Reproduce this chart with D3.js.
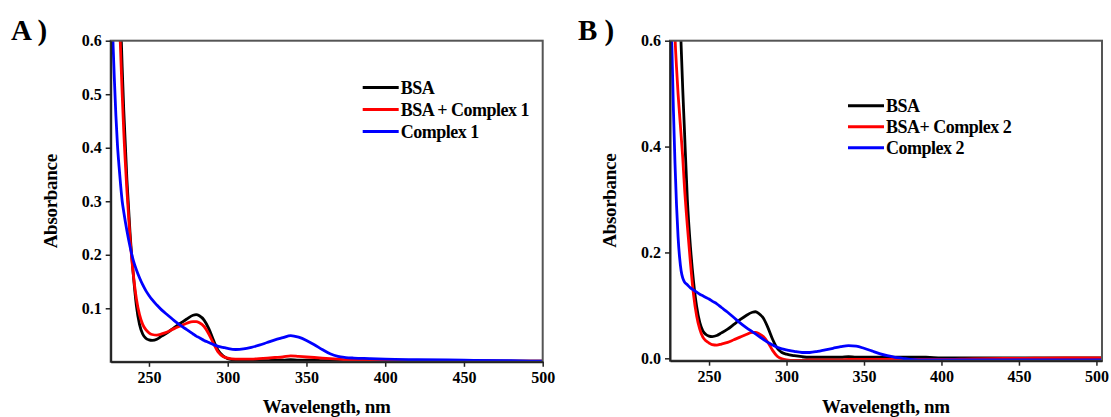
<!DOCTYPE html>
<html>
<head>
<meta charset="utf-8">
<script src="https://cdn.jsdelivr.net/npm/d3@7"></script>
<style>
  body { margin: 0; background: #fff; }
  svg text { font-family: "Liberation Serif", "Times New Roman", serif; font-weight: bold; fill: #000; }
</style>
</head>
<body>
<svg id="chart" width="1111" height="417"></svg>
<script>
// ---- Absorption spectra (absorbance vs wavelength, nm) ----
const wavelengthA = [225,226,227,228,229,230,231,232,233,234,236,238,240,242,244,246,248,250,252,255,258,262,266,270,274,278,280,282,285,288,291,294,297,300,305,310,315,320,325,330,335,340,345,350,355,360,365,370,375,380,390,400,420,450,480,500];
const bsaA = [1.6,1.4,1.22,1.06,0.92,0.82,0.72,0.64,0.55,0.47,0.34,0.24,0.165,0.105,0.07,0.052,0.044,0.041,0.040,0.042,0.048,0.055,0.064,0.072,0.080,0.087,0.088,0.086,0.078,0.062,0.040,0.021,0.011,0.006,0.003,0.002,0.002,0.002,0.002,0.003,0.003,0.004,0.003,0.003,0.003,0.002,0.002,0.002,0.002,0.002,0.002,0.002,0.001,0.001,0.001,0.001];
const bsaComplex1 = [1.5,1.3,1.12,0.97,0.85,0.75,0.66,0.58,0.50,0.43,0.32,0.23,0.165,0.118,0.088,0.070,0.060,0.054,0.051,0.050,0.052,0.056,0.062,0.067,0.072,0.075,0.075,0.073,0.066,0.052,0.034,0.018,0.010,0.007,0.005,0.005,0.005,0.006,0.007,0.008,0.009,0.011,0.010,0.009,0.008,0.007,0.006,0.005,0.004,0.004,0.003,0.003,0.002,0.002,0.001,0.001];
const complex1 = [0.78,0.69,0.61,0.53,0.46,0.405,0.365,0.33,0.30,0.28,0.245,0.215,0.19,0.172,0.157,0.144,0.133,0.124,0.116,0.106,0.097,0.087,0.077,0.068,0.060,0.052,0.048,0.045,0.040,0.036,0.032,0.029,0.027,0.025,0.023,0.024,0.027,0.031,0.036,0.041,0.045,0.049,0.046,0.040,0.032,0.023,0.015,0.010,0.008,0.007,0.006,0.005,0.004,0.003,0.002,0.001];

const wavelengthB = [225,226,227,228,229,230,231,232,233,234,236,238,240,242,244,246,248,250,252,255,258,262,266,270,274,278,280,282,285,288,291,294,297,300,305,310,315,320,325,330,335,340,345,350,355,360,365,370,375,380,390,400,420,450,480,500,504];
const bsaB = [1.5,1.3,1.13,0.98,0.86,0.76,0.67,0.59,0.51,0.44,0.30,0.21,0.145,0.098,0.068,0.052,0.045,0.042,0.041,0.043,0.048,0.055,0.064,0.073,0.081,0.087,0.088,0.085,0.076,0.058,0.036,0.019,0.011,0.008,0.005,0.003,0.002,0.002,0.002,0.002,0.002,0.003,0.002,0.002,0.002,0.002,0.002,0.002,0.002,0.002,0.002,0.001,0.001,0.001,0.001,0.001,0.001];
const bsaComplex2 = [0.95,0.82,0.71,0.61,0.55,0.50,0.46,0.42,0.38,0.33,0.25,0.18,0.12,0.08,0.055,0.040,0.033,0.029,0.026,0.025,0.027,0.030,0.035,0.040,0.045,0.049,0.049,0.047,0.041,0.030,0.015,0.004,-0.001,-0.003,-0.004,-0.004,-0.003,-0.003,-0.003,-0.003,-0.003,-0.002,-0.002,-0.002,-0.002,-0.002,-0.002,-0.002,-0.002,-0.002,-0.002,-0.002,-0.001,0.0,0.001,0.001,0.001];
const complex2 = [0.68,0.59,0.47,0.37,0.29,0.23,0.19,0.165,0.152,0.145,0.139,0.133,0.129,0.125,0.121,0.118,0.115,0.112,0.108,0.103,0.096,0.087,0.077,0.067,0.058,0.050,0.046,0.042,0.036,0.030,0.025,0.021,0.018,0.016,0.013,0.011,0.011,0.013,0.016,0.019,0.022,0.024,0.023,0.019,0.014,0.009,0.005,0.002,0.000,-0.002,-0.003,-0.003,-0.003,-0.003,-0.003,-0.003,-0.003];

const xTickValues = [250, 300, 350, 400, 450, 500];
const yTicksA = [0.1, 0.2, 0.3, 0.4, 0.5, 0.6];
const yTicksB = [0.0, 0.2, 0.4, 0.6];

const seriesNamesA = ["BSA", "BSA + Complex 1", "Complex 1"];
const seriesNamesB = ["BSA", "BSA+ Complex 2", "Complex 2"];
const seriesColors = ["#000000", "#ff0000", "#0000ff"];

const svg = d3.select("#chart");

const panels = [
  {
    id: "a", label: "A )", labelX: 11,
    wavelength: wavelengthA, values: [bsaA, bsaComplex1, complex1], names: seriesNamesA,
    xDomain: [225.7, 500], yDomain: [0, 0.6], yTicks: yTicksA,
    left: 110.7, right: 542.7, top: 40.7, bottom: 361.8,
    legendX: 362.7, legendY: 87.5, legendStep: 22, yTitleX: 56.5
  },
  {
    id: "b", label: "B )", labelX: 578,
    wavelength: wavelengthB, values: [bsaB, bsaComplex2, complex2], names: seriesNamesB,
    xDomain: [224.8, 503.6], yDomain: [-0.0045, 0.6], yTicks: yTicksB,
    left: 670, right: 1102, top: 40.7, bottom: 360.7,
    legendX: 848, legendY: 105.7, legendStep: 21, yTitleX: 615.5
  }
];

panels.forEach(p => {
  const x = d3.scaleLinear().domain(p.xDomain).range([p.left, p.right]);
  const y = d3.scaleLinear().domain(p.yDomain).range([p.bottom, p.top]);
  const g = svg.append("g");

  g.append("clipPath").attr("id", "clip-" + p.id)
    .append("rect")
    .attr("x", p.left).attr("y", p.top)
    .attr("width", p.right - p.left).attr("height", p.bottom - p.top);

  // spectra
  const line = d3.line()
    .x((d, i) => x(p.wavelength[i]))
    .y(d => y(d))
    .curve(d3.curveMonotoneX);

  const curves = g.append("g").attr("clip-path", "url(#clip-" + p.id + ")");
  p.values.forEach((vals, k) => {
    curves.append("path")
      .datum(vals)
      .attr("d", line)
      .attr("fill", "none")
      .attr("stroke", seriesColors[k])
      .attr("stroke-width", 2.8)
      .attr("stroke-linejoin", "round");
  });

  // plot frame
  g.append("rect")
    .attr("x", p.left).attr("y", p.top)
    .attr("width", p.right - p.left).attr("height", p.bottom - p.top)
    .attr("fill", "none").attr("stroke", "#555").attr("stroke-width", 2);

  // axes
  const xAxis = g.append("g")
    .attr("transform", `translate(0,${p.bottom})`)
    .call(d3.axisBottom(x).tickValues(xTickValues).tickSize(5).tickSizeOuter(0).tickPadding(5).tickFormat(d3.format("d")));
  const yAxis = g.append("g")
    .attr("transform", `translate(${p.left},0)`)
    .call(d3.axisLeft(y).tickValues(p.yTicks).tickSize(5).tickSizeOuter(0).tickPadding(4).tickFormat(d3.format(".1f")));

  [xAxis, yAxis].forEach(a => {
    a.select(".domain").attr("stroke", "#222").attr("stroke-width", 2);
    a.selectAll(".tick line").attr("stroke", "#222").attr("stroke-width", 1.5);
    a.selectAll("text")
      .attr("font-family", "Liberation Serif, serif")
      .attr("font-weight", "bold")
      .attr("font-size", 16)
      .attr("fill", "#000");
  });

  // axis titles
  g.append("text")
    .attr("x", (p.left + p.right) / 2)
    .attr("y", 413)
    .attr("text-anchor", "middle")
    .attr("font-size", 19)
    .attr("letter-spacing", -0.3)
    .text("Wavelength, nm");

  g.append("text")
    .attr("transform", `translate(${p.yTitleX},${(p.top + p.bottom) / 2}) rotate(-90)`)
    .attr("text-anchor", "middle")
    .attr("font-size", 19)
    .attr("letter-spacing", -0.3)
    .text("Absorbance");

  // panel label
  g.append("text")
    .attr("x", p.labelX)
    .attr("y", 40)
    .attr("font-size", 29)
    .text(p.label);

  // legend
  const legend = g.append("g");
  p.names.forEach((name, k) => {
    const ly = p.legendY + k * p.legendStep;
    legend.append("line")
      .attr("x1", p.legendX).attr("x2", p.legendX + 36)
      .attr("y1", ly).attr("y2", ly)
      .attr("stroke", seriesColors[k]).attr("stroke-width", 3);
    legend.append("text")
      .attr("x", p.legendX + 38)
      .attr("y", ly + 6)
      .attr("font-size", 18)
      .attr("letter-spacing", -0.5)
      .text(name);
  });
});
</script>
</body>
</html>
